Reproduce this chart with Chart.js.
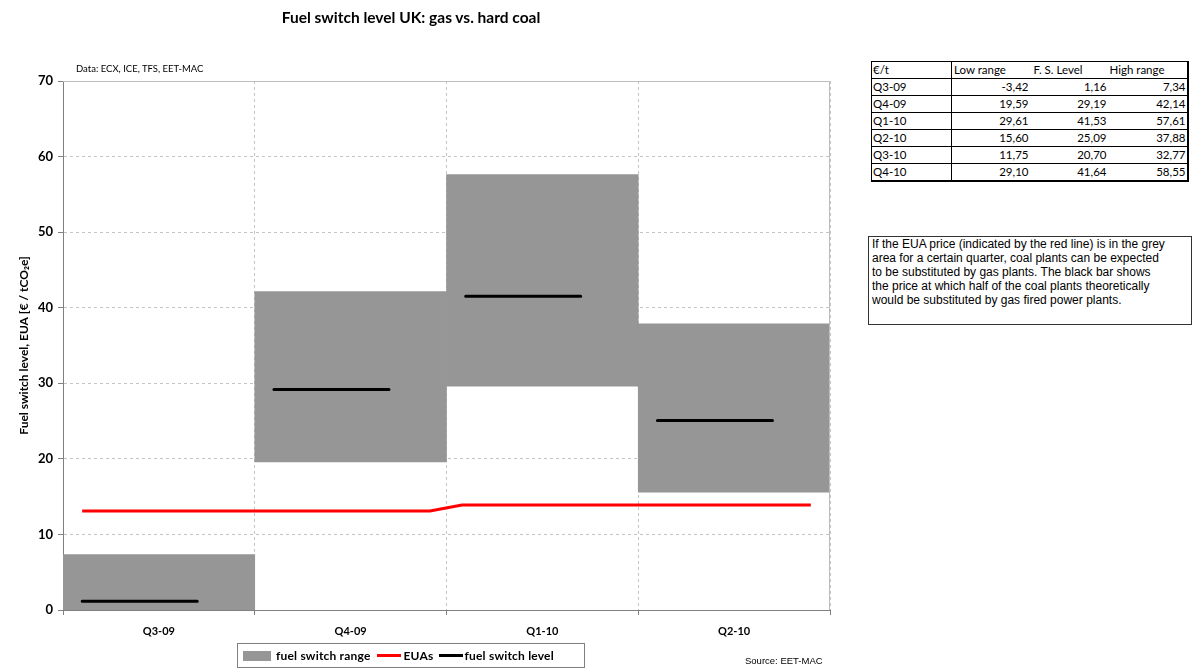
<!DOCTYPE html>
<html>
<head>
<meta charset="utf-8">
<title>Fuel switch level UK</title>
<script src="https://cdn.jsdelivr.net/npm/chart.js@4.4.1/dist/chart.umd.min.js"></script>
<style>
  html, body { margin: 0; padding: 0; background: #fff; }
  #wrap { position: relative; width: 1196px; height: 672px; overflow: hidden; background: #fff; }
  #chart { position: absolute; left: 0; top: 0; }
  #title { position: absolute; left: 0; width: 822px; top: 8px; text-align: center;
           font: bold 15.5px Lato, sans-serif; color: #000; }
  #dataNote { position: absolute; left: 76px; top: 63px; font: 9.5px Lato, sans-serif; color: #000; }
  #source { position: absolute; left: 745px; top: 655px; font: 9.5px "Liberation Sans", Arial, sans-serif; color: #000; }
  #legend { position: absolute; left: 237px; top: 643px; width: 348px; height: 25px; border: 1px solid #808080;
            box-sizing: border-box; display: flex; align-items: center; padding-left: 5px;
            font: bold 12px Lato, sans-serif; letter-spacing: 0.2px; color: #000; white-space: nowrap; }
  #legend .sw { display: inline-block; }
  #legend .item { display: inline-flex; align-items: center; }
  #tbl { position: absolute; left: 871px; top: 61px; width: 316px; border-collapse: collapse; table-layout: fixed;
         font: 11.5px Lato, sans-serif; color: #000;
         border-top: 1px solid #000; border-left: 1px solid #000; border-right: 2px solid #000; border-bottom: 2px solid #000; }
  #tbl td { height: 16px; line-height: 16px; padding: 0; border-bottom: 1px solid #000; white-space: nowrap; overflow: visible; }
  #tbl td.c1 { border-right: 1px solid #000; padding-left: 1px; }
  #tbl td.num { text-align: right; padding-right: 1px; }
  #note { position: absolute; left: 868px; top: 236px; width: 324px; height: 89px; box-sizing: border-box;
          border: 1px solid #333; padding: 0 3px; font: 12px "Liberation Sans", Arial, sans-serif;
          line-height: 14px; color: #000; white-space: nowrap; }
</style>
</head>
<body>
<div id="wrap">
  <canvas id="chart" width="850" height="672"></canvas>
  <div id="title">Fuel switch level UK: gas vs. hard coal</div>
  <div id="dataNote">Data: ECX, ICE, TFS, EET-MAC</div>
  <div id="source">Source: EET-MAC</div>
  <div id="legend"></div>
  <table id="tbl"></table>
  <div id="note">If the EUA price (indicated by the red line) is in the grey<br>area for a certain quarter, coal plants can be expected<br>to be substituted by gas plants. The black bar shows<br>the price at which half of the coal plants theoretically<br>would be substituted by gas fired power plants.</div>
</div>
<script>
// Quarterly fuel switch figures, €/t
const quarters    = ['Q3-09', 'Q4-09', 'Q1-10', 'Q2-10', 'Q3-10', 'Q4-10'];
const lowRange    = [-3.42, 19.59, 29.61, 15.60, 11.75, 29.10];
const switchLevel = [1.16, 29.19, 41.53, 25.09, 20.70, 41.64];
const highRange   = [7.34, 42.14, 57.61, 37.88, 32.77, 58.55];

// Quarters shown on the chart
const chartQuarterCount = 4;

// EUA price path; time measured in quarters from the start of Q3-09
const euaTime  = [0.1, 1.914, 2.081, 3.9];
const euaPrice = [13.1, 13.1, 13.9, 13.9];

// Value axis ticks
const yMin = 0, yMax = 70, yStep = 10;

// Portion of each quarter covered by the fuel switch level bar
const LEVEL_FROM = 0.1, LEVEL_TO = 0.7;

const chartQuarters = quarters.slice(0, chartQuarterCount);

const rangeData = chartQuarters.map((_, i) => [lowRange[i], highRange[i]]);
const levelData = [];
chartQuarters.forEach((_, i) => {
  levelData.push({ x: i + LEVEL_FROM, y: switchLevel[i] });
  levelData.push({ x: i + LEVEL_TO, y: switchLevel[i] });
  levelData.push({ x: i + (LEVEL_TO + 1) / 2, y: null });
});
const euaData = euaTime.map((t, i) => ({ x: t, y: euaPrice[i] }));

const GRID = '#c4c4c4';
const AXIS = '#808080';

// Solid frame on the top and right of the plot area
const plotFrame = {
  id: 'plotFrame',
  afterDatasetsDraw(chart) {
    const { ctx, chartArea: a } = chart;
    ctx.save();
    ctx.strokeStyle = '#bdbdbd';
    ctx.lineWidth = 1;
    ctx.beginPath();
    ctx.moveTo(a.left, a.top + 0.5);
    ctx.lineTo(a.right - 0.5, a.top + 0.5);
    ctx.lineTo(a.right - 0.5, a.bottom);
    ctx.stroke();
    ctx.restore();
  }
};

Chart.defaults.font.family = 'Lato, sans-serif';
Chart.defaults.color = '#000';

const chart = new Chart(document.getElementById('chart'), {
  type: 'bar',
  data: {
    labels: chartQuarters,
    datasets: [
      {
        type: 'line',
        label: 'fuel switch level',
        data: levelData,
        xAxisID: 'xt',
        borderColor: '#000',
        borderWidth: 3,
        borderCapStyle: 'round',
        pointRadius: 0,
        spanGaps: false,
        order: 1
      },
      {
        type: 'line',
        label: 'EUAs',
        data: euaData,
        xAxisID: 'xt',
        borderColor: '#ff0000',
        borderWidth: 3,
        pointRadius: 0,
        tension: 0,
        order: 2
      },
      {
        type: 'bar',
        label: 'fuel switch range',
        data: rangeData,
        xAxisID: 'x',
        backgroundColor: '#969696',
        borderWidth: 0,
        grouped: false,
        barPercentage: 1,
        categoryPercentage: 1,
        order: 3
      }
    ]
  },
  options: {
    responsive: false,
    animation: false,
    layout: { padding: { top: 81, right: 20, left: 0, bottom: 0 } },
    plugins: {
      legend: { display: false },
      tooltip: { enabled: false }
    },
    scales: {
      x: {
        type: 'category',
        offset: true,
        grid: { offset: true, color: GRID, tickColor: AXIS, tickLength: 5, drawOnChartArea: true },
        border: { color: AXIS, width: 1, dash: [3, 3] },
        ticks: { font: { size: 11, weight: 'bold' }, padding: 10, maxRotation: 0 },
        afterFit(scale) { scale.height = 62; }
      },
      xt: {
        type: 'linear',
        display: false,
        offset: false,
        grid: { offset: false },
        min: 0,
        max: chartQuarterCount
      },
      y: {
        min: yMin,
        max: yMax,
        ticks: { stepSize: yStep, font: { size: 13, weight: 'bold' }, padding: 5 },
        grid: { color: GRID, tickColor: AXIS, tickLength: 5 },
        border: { color: AXIS, width: 1, dash: [3, 3] },
        title: {
          display: true,
          text: 'Fuel switch level, EUA [€ / tCO\u2082e]',
          font: { size: 12, weight: 'bold' },
          padding: { top: 17, bottom: 0 }
        },
        afterFit(scale) { scale.width = 63; }
      }
    }
  },
  plugins: [plotFrame]
});

// Legend built from the chart's datasets
const legendOrder = ['fuel switch range', 'EUAs', 'fuel switch level'];
const legendGaps = [[0, 5], [6, 3], [5, 2]];
const legendEl = document.getElementById('legend');
legendOrder.forEach((name, k) => {
  const ds = chart.data.datasets.find(d => d.label === name);
  const item = document.createElement('span');
  item.className = 'item';
  item.style.marginLeft = legendGaps[k][0] + 'px';
  const sw = document.createElement('span');
  sw.className = 'sw';
  sw.style.marginRight = legendGaps[k][1] + 'px';
  if (ds.type === 'bar') {
    sw.style.width = '28px'; sw.style.height = '10px'; sw.style.background = ds.backgroundColor;
  } else {
    sw.style.width = '24px'; sw.style.height = '3px'; sw.style.background = ds.borderColor;
  }
  item.appendChild(sw);
  const tx = document.createElement('span');
  tx.textContent = ds.label;
  item.appendChild(tx);
  legendEl.appendChild(item);
});

// Data table
const fmt = v => v.toFixed(2).replace('.', ',');
const tbl = document.getElementById('tbl');
let html = '<colgroup><col style="width:80px"><col style="width:78px"><col style="width:78px"><col style="width:80px"></colgroup>' +
  '<tr><td class="c1">€/t</td>' +
  '<td style="text-indent:2px">Low range</td>' +
  '<td style="text-indent:4px">F. S. Level</td>' +
  '<td style="text-indent:2px">High range</td></tr>';
quarters.forEach((q, i) => {
  html += '<tr><td class="c1">' + q + '</td>' +
    '<td class="num">' + fmt(lowRange[i]) + '</td>' +
    '<td class="num">' + fmt(switchLevel[i]) + '</td>' +
    '<td class="num">' + fmt(highRange[i]) + '</td></tr>';
});
tbl.innerHTML = html;
</script>
</body>
</html>
